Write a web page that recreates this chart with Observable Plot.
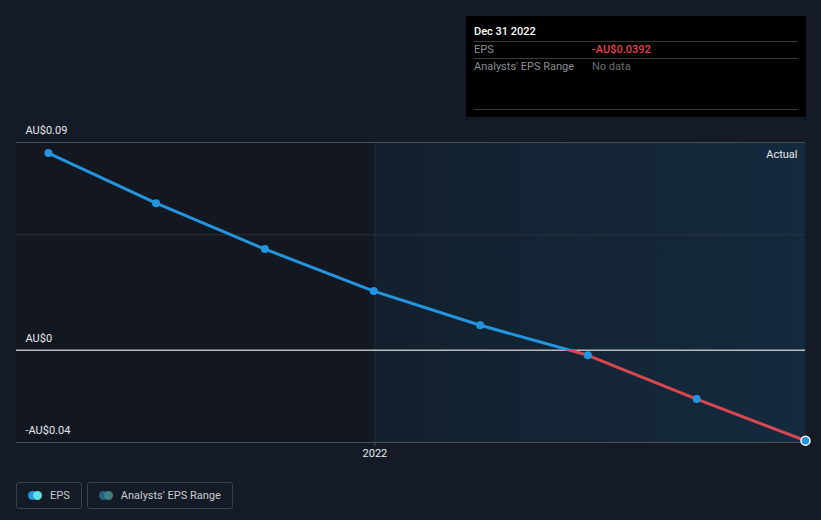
<!DOCTYPE html>
<html>
<head>
<meta charset="utf-8">
<script src="https://cdn.jsdelivr.net/npm/d3@7"></script>
<script src="https://cdn.jsdelivr.net/npm/@observablehq/plot@0.6"></script>
<style>
  body { margin: 0; background: #151b26; font-family: Roboto, "Noto Sans", sans-serif; }
  #wrap { position: relative; width: 821px; height: 520px; overflow: hidden; background: #151b26; }
  #tip { position: absolute; left: 466px; top: 16px; width: 340px; height: 101px; background: #000; font-size: 11px; }
  #tip .t { position: absolute; left: 8px; top: 8px; color: #fff; font-weight: 500; }
  #tip .rule { position: absolute; left: 8px; width: 324px; height: 1px; background: #3a3a3a; }
  #tip .lab { position: absolute; left: 8px; color: #8a8d92; }
  #tip .val { position: absolute; left: 126px; }
  #legend { position: absolute; left: 16px; top: 482px; display: flex; gap: 5px; }
  .item { height: 25px; border: 1px solid #3b414b; border-radius: 3px; display: flex; align-items: center; padding: 0 11px 0 11px; color: #c8cbd0; font-size: 11px; box-sizing: content-box; }
  .dots { position: relative; width: 14px; height: 9px; margin-right: 8px; }
  .dots span { position: absolute; top: 0; width: 9px; height: 9px; border-radius: 50%; }
</style>
</head>
<body>
<div id="wrap">
  <div id="chart"></div>
  <div id="tip">
    <div class="t" style="top:9px">Dec 31 2022</div>
    <div class="rule" style="top:25px"></div>
    <div class="lab" style="top:27px">EPS</div>
    <div class="val" style="top:27px;color:#e8434b;font-weight:500">-AU$0.0392</div>
    <div class="rule" style="top:42px"></div>
    <div class="lab" style="top:44px">Analysts' EPS Range</div>
    <div class="val" style="top:44px;color:#6b6e73">No data</div>
    <div class="rule" style="top:93px"></div>
  </div>
  <div id="legend">
    <div class="item"><div class="dots"><span style="left:0;background:#2394df"></span><span style="left:5px;background:#5ce1e6"></span></div>EPS</div>
    <div class="item"><div class="dots"><span style="left:0;background:#245f8a"></span><span style="left:5px;background:#3e8080"></span></div>Analysts' EPS Range</div>
  </div>
</div>
<script>
// Data
const dates = ["2021-03-31","2021-06-30","2021-09-30","2021-12-31","2022-03-31","2022-06-30","2022-09-30","2022-12-31"];
const eps = [0.0854, 0.0637, 0.0438, 0.0256, 0.0108, -0.0022, -0.0212, -0.0392];
const yTicks = [0.09, 0.05, 0, -0.04];
const yTickLabels = ["AU$0.09", "", "AU$0", "-AU$0.04"];
const xTickDates = ["2022-01-01"];
const xTickLabels = ["2022"];
const domainStart = "2021-03-04";
const domainEnd = "2022-12-31";
const actualStart = "2022-01-01";

const data = dates.map((d, i) => ({date: new Date(d), eps: eps[i]}));
const last = data[data.length - 1];
const xStart = new Date(domainStart), xEnd = new Date(domainEnd), xAct = new Date(actualStart);
const yMin = yTicks[yTicks.length - 1], yMax = yTicks[0];
const yLabelData = yTicks.map((v, i) => ({v, label: yTickLabels[i]})).filter(d => d.label);
const xTicks = xTickDates.map(d => new Date(d));

const defs = (index, scales) => {
  const y0 = scales.y(0);
  const yt = scales.y(yMax);
  const yb = scales.y(yMin);
  const off = (y0 - yt) / (yb - yt);
  const g = d3.create("svg:defs");
  const a = g.append("linearGradient").attr("id", "areaGrad").attr("x1", 0).attr("x2", 1).attr("y1", 0).attr("y2", 0);
  a.append("stop").attr("offset", 0).attr("stop-color", "#13202d");
  a.append("stop").attr("offset", 1).attr("stop-color", "#142a3e");
  const l = g.append("linearGradient").attr("id", "lineGrad").attr("gradientUnits", "userSpaceOnUse")
    .attr("x1", 0).attr("x2", 0).attr("y1", yt).attr("y2", yb);
  l.append("stop").attr("offset", off).attr("stop-color", "#2394df");
  l.append("stop").attr("offset", off).attr("stop-color", "#d9464f");
  return g.node();
};

const chart = Plot.plot({
  width: 821,
  height: 470,
  marginLeft: 16,
  marginRight: 16,
  marginTop: 142,
  marginBottom: 28,
  style: {background: "transparent", fontFamily: "Roboto, sans-serif", fontSize: "11px", overflow: "visible"},
  x: {type: "time", domain: [xStart, xEnd]},
  y: {type: "linear", domain: [yMin, yMax]},
  marks: [
    defs,
    Plot.rect([{x1: xStart, x2: xAct}], {x1: "x1", x2: "x2", y1: () => yMin, y2: () => yMax, fill: "#13171f"}),
    Plot.rect([{x1: xAct, x2: xEnd}], {x1: "x1", x2: "x2", y1: () => yMin, y2: () => yMax, fill: "url(#areaGrad)"}),
    Plot.ruleX(xTicks, {x: d => d, y1: () => yMin, y2: () => yMax, stroke: "#202b37", strokeWidth: 1}),
    Plot.ruleY([yMax, yMin], {y: d => d, stroke: "#4a4f57", strokeWidth: 1}),
    Plot.ruleY([yTicks[1]], {y: d => d, stroke: "#2b323c", strokeWidth: 1}),
    Plot.ruleY([0], {y: d => d, stroke: "#b7bcc2", strokeWidth: 1.5}),
    Plot.axisX(xTicks, {tickFormat: (d, i) => xTickLabels[i], tickSize: 4, tickPadding: 3, stroke: "#4a4f57", color: "#e6e8eb", fontSize: 11, label: null}),
    Plot.axisY({ticks: [], label: null, tickSize: 0}),
    Plot.text(yLabelData, {y: "v", text: "label", frameAnchor: "left", textAnchor: "start", dx: 9, dy: -12, fill: "#e6e8eb", fontSize: 11}),
    Plot.text(["Actual"], {frameAnchor: "top-right", dx: -8, dy: 8, fill: "#e6e8eb", fontSize: 11}),
    Plot.line(data, {x: "date", y: "eps", stroke: "url(#lineGrad)", strokeWidth: 3}),
    Plot.dot(data.slice(0, -1), {x: "date", y: "eps", r: 4, fill: "#2394df"}),
    Plot.dot([last], {x: "date", y: "eps", r: 4.5, fill: "#2394df", stroke: "#ffffff", strokeWidth: 1.5})
  ]
});
document.getElementById("chart").appendChild(chart);
</script>
</body>
</html>
